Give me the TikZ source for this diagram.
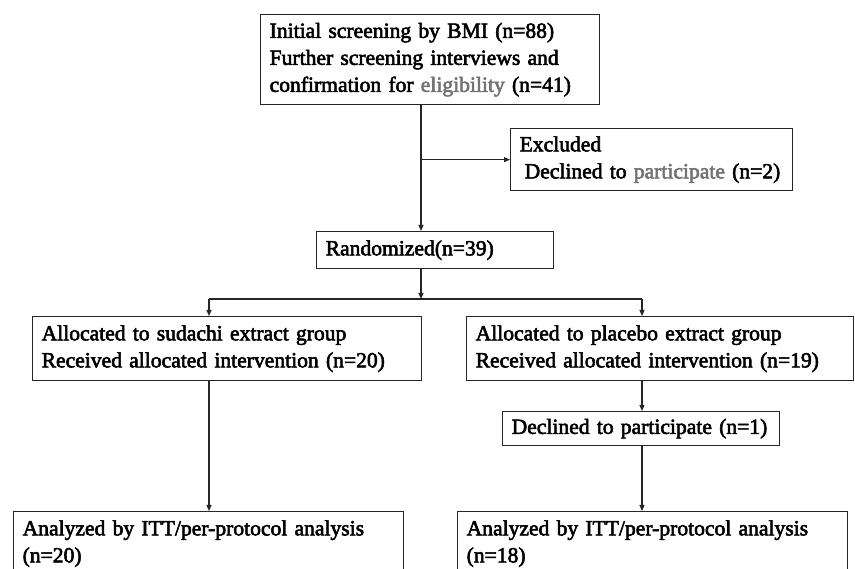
\documentclass[tikz,border=0pt]{standalone}
\usepackage{fontspec}
\setmainfont{Liberation Serif}[FakeBold=2.6]
\usetikzlibrary{arrows.meta}
\begin{document}
\begin{tikzpicture}[x=1pt,y=-1pt,
  box/.style={draw=black!85, line width=1.3pt, anchor=north west, align=left,
    inner xsep=9pt, inner ysep=0pt, font=\fontsize{21.6}{27}\selectfont},
  arr/.style={draw=black!85, line width=1.2pt, -{Triangle[width=5pt,length=6pt]}},
  ln/.style={draw=black!85, line width=1.2pt}]
\useasboundingbox (0,0) rectangle (855,569);
\clip (0,0) rectangle (855,569);
\fill[white] (0,0) rectangle (855,569);

\node[box, text width=321pt, minimum height=90pt] (top) at (260,14)
  {Initial screening by BMI (n=88)\\Further screening interviews and\\confirmation for {\color{black!55}eligibility} (n=41)};
\node[box, text width=264pt, minimum height=62pt] (excl) at (510,128)
  {Excluded\\\hspace*{5pt}Declined to {\color{black!55}participate} (n=2)};
\node[box, text width=219pt, minimum height=37pt] (rand) at (316,231)
  {Randomized(n=39)};
\node[box, text width=371pt, minimum height=64pt] (alloc1) at (32,316)
  {Allocated to sudachi extract group\\Received allocated intervention (n=20)};
\node[box, text width=369pt, minimum height=64pt] (alloc2) at (466,316)
  {Allocated to placebo extract group\\Received allocated intervention (n=19)};
\node[box, text width=259pt, minimum height=34pt] (decl) at (502,411)
  {Declined to participate (n=1)};
\node[box, text width=372pt, minimum height=64pt] (ana1) at (13,511)
  {Analyzed by ITT/per-protocol analysis\\(n=20)};
\node[box, text width=372pt, minimum height=64pt] (ana2) at (457,511)
  {Analyzed by ITT/per-protocol analysis\\(n=18)};

\coordinate (spine) at (421,0);
\coordinate (junc) at (421,299);
\coordinate (lb) at (209,299);
\coordinate (rb) at (642,299);

\draw[arr] (top.south -| spine) -- (rand.north -| spine);
\draw[arr] (spine |- excl.west) -- (excl.west);
\draw[arr] (rand.south -| spine) -- (junc);
\draw[ln] (lb) -- (rb);
\draw[arr] (lb) -- (alloc1.north -| lb);
\draw[arr] (rb) -- (alloc2.north -| rb);
\draw[arr] (alloc1.south -| lb) -- (ana1.north -| lb);
\draw[arr] (alloc2.south -| rb) -- (decl.north -| rb);
\draw[arr] (decl.south -| rb) -- (ana2.north -| rb);
\end{tikzpicture}
\end{document}
